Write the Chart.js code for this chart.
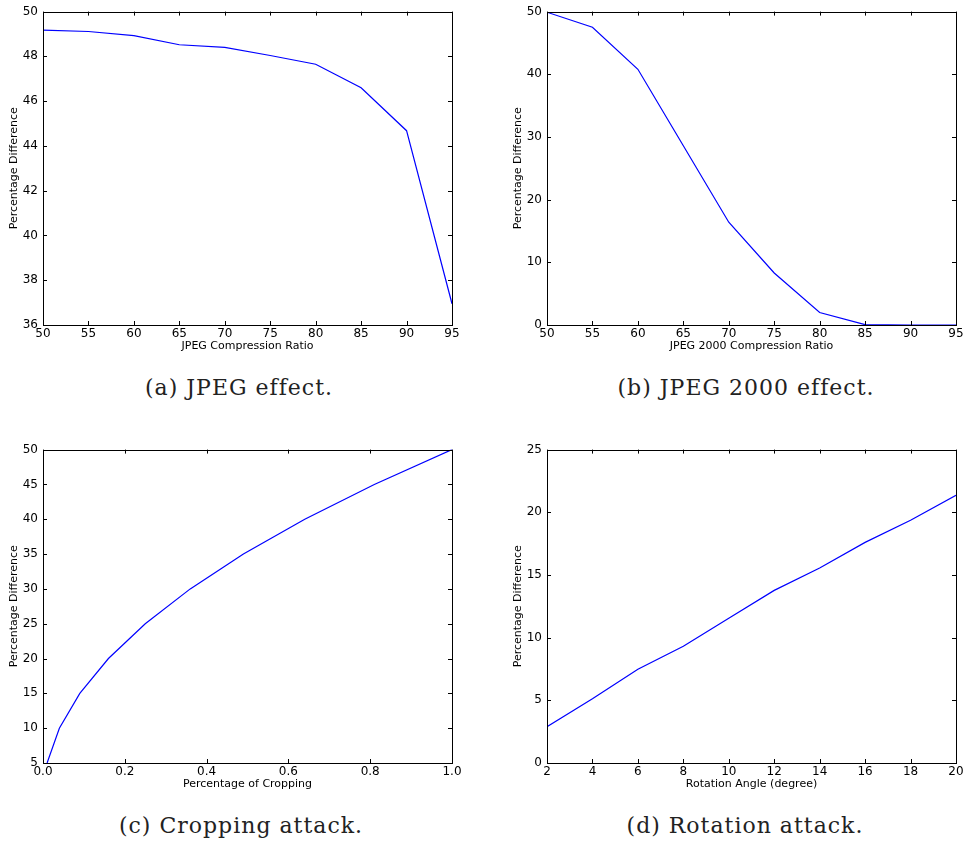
<!DOCTYPE html>
<html>
<head>
<meta charset="utf-8">
<script src="https://cdn.jsdelivr.net/npm/chart.js@4/dist/chart.umd.min.js"></script>
<style>
  body { margin: 0; background: #fff; width: 966px; height: 845px; position: relative; overflow: hidden; }
  canvas { position: absolute; }
  .cap { position: absolute; width: 400px; text-align: center; font-family: "DejaVu Serif", serif; font-size: 22px; letter-spacing: 1px; line-height: 30px; color: #222; }
</style>
</head>
<body>
<canvas id="c1" width="466" height="353" style="left:0px;top:0px"></canvas>
<canvas id="c2" width="466" height="353" style="left:504px;top:0px"></canvas>
<canvas id="c3" width="466" height="353" style="left:0px;top:438px"></canvas>
<canvas id="c4" width="466" height="353" style="left:504px;top:438px"></canvas>
<div class="cap" style="left:39px;top:373px">(a) JPEG effect.</div>
<div class="cap" style="left:546px;top:373px">(b) JPEG 2000 effect.</div>
<div class="cap" style="left:41px;top:811px">(c) Cropping attack.</div>
<div class="cap" style="left:545px;top:811px">(d) Rotation attack.</div>
<script>
// (a) JPEG
const jpegRatio = [50, 55, 60, 65, 70, 75, 80, 85, 90, 95];
const jpegDiff = [49.17, 49.11, 48.93, 48.52, 48.40, 48.04, 47.65, 46.60, 44.68, 36.95];
const jpegXTicks = [50, 55, 60, 65, 70, 75, 80, 85, 90, 95];
const jpegYTicks = [36, 38, 40, 42, 44, 46, 48, 50];

// (b) JPEG 2000
const j2kRatio = [50, 55, 60, 65, 70, 75, 80, 85, 90, 95];
const j2kDiff = [49.9, 47.5, 40.8, 28.6, 16.4, 8.3, 2.0, 0.05, 0, 0];
const j2kXTicks = [50, 55, 60, 65, 70, 75, 80, 85, 90, 95];
const j2kYTicks = [0, 10, 20, 30, 40, 50];

// (c) cropping
const cropFrac = [0.01, 0.04, 0.09, 0.16, 0.25, 0.36, 0.49, 0.64, 0.81, 1.0];
const cropDiff = [5, 10, 15, 20, 25, 30, 35, 40, 45, 50];
const cropXTicks = [0, 0.2, 0.4, 0.6, 0.8, 1.0];
const cropYTicks = [5, 10, 15, 20, 25, 30, 35, 40, 45, 50];

// (d) rotation
const rotAngle = [2, 4, 6, 8, 10, 12, 14, 16, 18, 20];
const rotDiff = [2.89, 5.12, 7.48, 9.31, 11.54, 13.77, 15.56, 17.6, 19.36, 21.35];
const rotXTicks = [2, 4, 6, 8, 10, 12, 14, 16, 18, 20];
const rotYTicks = [0, 5, 10, 15, 20, 25];

// box round the plot + inward ticks on all four sides, like old matplotlib
const frameTicks = {
  id: 'frameTicks',
  afterDatasetsDraw(chart) {
    const {ctx, chartArea: a, scales: {x, y}} = chart;
    const len = 4;
    ctx.save();
    ctx.strokeStyle = '#000';
    ctx.lineWidth = 1;
    ctx.strokeRect(Math.round(a.left) + 0.5, Math.round(a.top) + 0.5,
      Math.round(a.right - a.left), Math.round(a.bottom - a.top));
    ctx.beginPath();
    x.ticks.forEach((t, i) => {
      const px = Math.round(x.getPixelForTick(i)) + 0.5;
      ctx.moveTo(px, a.bottom); ctx.lineTo(px, a.bottom - len);
      ctx.moveTo(px, a.top); ctx.lineTo(px, a.top + len);
    });
    y.ticks.forEach((t, i) => {
      const py = Math.round(y.getPixelForTick(i)) + 0.5;
      ctx.moveTo(a.left, py); ctx.lineTo(a.left + len, py);
      ctx.moveTo(a.right, py); ctx.lineTo(a.right - len, py);
    });
    ctx.stroke();
    ctx.restore();
  }
};

function makePanel(id, xs, ys, xTicks, yTicks, xTitle, xFmt) {
  const ctx = document.getElementById(id).getContext('2d');
  return new Chart(ctx, {
    type: 'line',
    data: {
      datasets: [{
        data: xs.map((v, i) => ({x: v, y: ys[i]})),
        borderColor: 'rgb(0,0,255)',
        borderWidth: 1.2,
        pointRadius: 0,
        tension: 0,
        fill: false
      }]
    },
    options: {
      responsive: false,
      animation: false,
      layout: { padding: { top: 7, right: 14, left: 0, bottom: 0 } },
      plugins: { legend: { display: false }, tooltip: { enabled: false } },
      scales: {
        x: {
          type: 'linear',
          min: xTicks[0],
          max: xTicks[xTicks.length - 1],
          afterBuildTicks: s => { s.ticks = xTicks.map(v => ({value: v})); },
          afterFit: s => { s.height = 28; },
          grid: { display: false, drawTicks: false },
          border: { display: false },
          ticks: {
            color: '#000', padding: 2, maxRotation: 0, autoSkip: false,
            font: { family: 'DejaVu Sans', size: 12, lineHeight: 1.1 },
            callback: v => xFmt ? xFmt(v) : v
          },
          title: {
            display: true, text: xTitle, color: '#000',
            padding: { top: 0, bottom: 0 },
            font: { family: 'DejaVu Sans', size: 11, lineHeight: 1.2 }
          }
        },
        y: {
          min: yTicks[0],
          max: yTicks[yTicks.length - 1],
          afterBuildTicks: s => { s.ticks = yTicks.map(v => ({value: v})); },
          afterFit: s => { s.width = 43; },
          grid: { display: false, drawTicks: false },
          border: { display: false },
          ticks: {
            color: '#000', padding: 5, autoSkip: false,
            font: { family: 'DejaVu Sans', size: 12, lineHeight: 1.1 }
          },
          title: {
            display: true, text: 'Percentage Difference', color: '#000',
            padding: { top: 8, bottom: 0 },
            font: { family: 'DejaVu Sans', size: 11, lineHeight: 1.2 }
          }
        }
      }
    },
    plugins: [frameTicks]
  });
}

makePanel('c1', jpegRatio, jpegDiff, jpegXTicks, jpegYTicks, 'JPEG Compression Ratio');
makePanel('c2', j2kRatio, j2kDiff, j2kXTicks, j2kYTicks, 'JPEG 2000 Compression Ratio');
makePanel('c3', cropFrac, cropDiff, cropXTicks, cropYTicks, 'Percentage of Cropping', v => v.toFixed(1));
makePanel('c4', rotAngle, rotDiff, rotXTicks, rotYTicks, 'Rotation Angle (degree)');
</script>
</body>
</html>
